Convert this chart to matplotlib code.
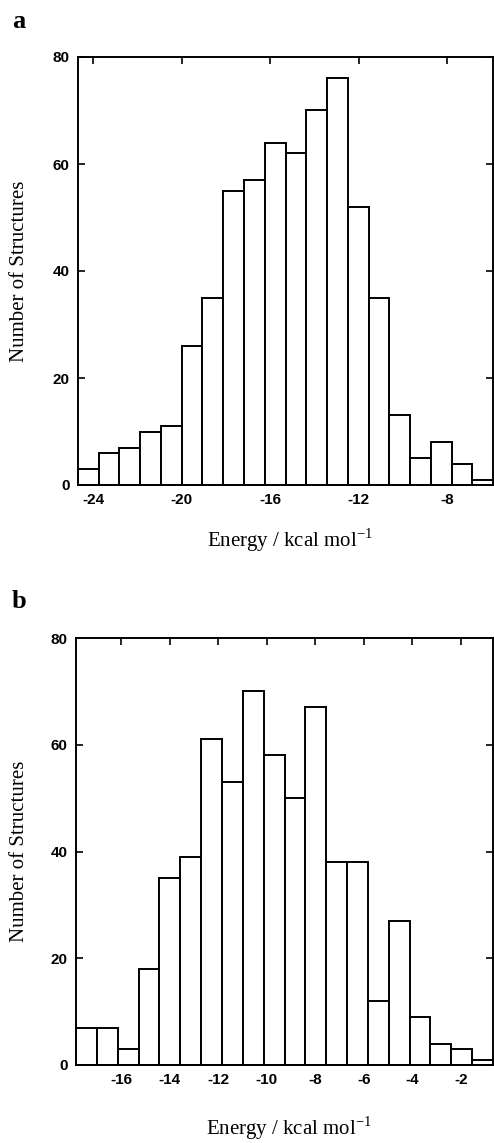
import numpy as np
import matplotlib
matplotlib.use("Agg")
import matplotlib.pyplot as plt
from matplotlib.ticker import FixedLocator

# ---- data ----
counts_a = [3, 6, 7, 10, 11, 26, 35, 55, 57, 64, 62, 70, 76, 52, 35, 13, 5, 8, 4, 1]
bin_start_a = -24.68
bin_width_a = 0.9375
xticks_a = [-24, -20, -16, -12, -8]

counts_b = [7, 7, 3, 18, 35, 39, 61, 53, 70, 58, 50, 67, 38, 38, 12, 27, 9, 4, 3, 1]
bin_start_b = -17.86
bin_width_b = 0.859
xticks_b = [-16, -14, -12, -10, -8, -6, -4, -2]

yticks = [0, 20, 40, 60, 80]
ylabel = "Number of Structures"
xlabel = "Energy / kcal mol$^{\\mathregular{-1}}$"

W, H = 494, 1143
fig = plt.figure(figsize=(W / 100, H / 100), dpi=100)

serif = ["Liberation Serif", "DejaVu Serif"]
sans = ["Liberation Sans", "DejaVu Sans"]


def panel(rect, counts, start, width, xticks, letter, letter_y, xlabel_y):
    ax = fig.add_axes(rect)
    n = len(counts)
    edges = start + width * np.arange(n + 1)
    ax.bar(edges[:-1], counts, width=width, align="edge",
           facecolor="white", edgecolor="black", linewidth=1.4, zorder=2)
    ax.set_xlim(edges[0], edges[-1])
    ax.set_ylim(0, 80)
    ax.xaxis.set_major_locator(FixedLocator(xticks))
    ax.yaxis.set_major_locator(FixedLocator(yticks))
    ax.set_xticklabels([str(t) for t in xticks])
    ax.set_yticklabels([str(t) for t in yticks])
    ax.tick_params(direction="in", top=True, right=True, length=5, width=1.2,
                   labelsize=11, pad=6)
    for lab in ax.get_xticklabels() + ax.get_yticklabels():
        lab.set_family(sans)
        lab.set_fontweight("bold")
    for s in ax.spines.values():
        s.set_linewidth(1.4)
    ax.set_ylabel(ylabel, fontsize=15, family=serif)
    ax.yaxis.set_label_coords((29 - rect[0] * W) / (rect[2] * W), 0.5)
    fig.text(0.5 * (rect[0] + rect[0] + rect[2]) + 0.01, 1 - xlabel_y / H, xlabel,
             ha="center", va="center", fontsize=15, family=serif)
    fig.text(12 / W, 1 - letter_y / H, letter, fontsize=19, fontweight="bold",
             family=serif, ha="left", va="center")
    return ax


panel([78 / W, 1 - 485 / H, 415 / W, 428 / H], counts_a, bin_start_a, bin_width_a,
      xticks_a, "a", 22, 540)
panel([76 / W, 1 - 1065 / H, 417 / W, 427 / H], counts_b, bin_start_b, bin_width_b,
      xticks_b, "b", 602, 1128)

fig.savefig("out.png", dpi=100)
